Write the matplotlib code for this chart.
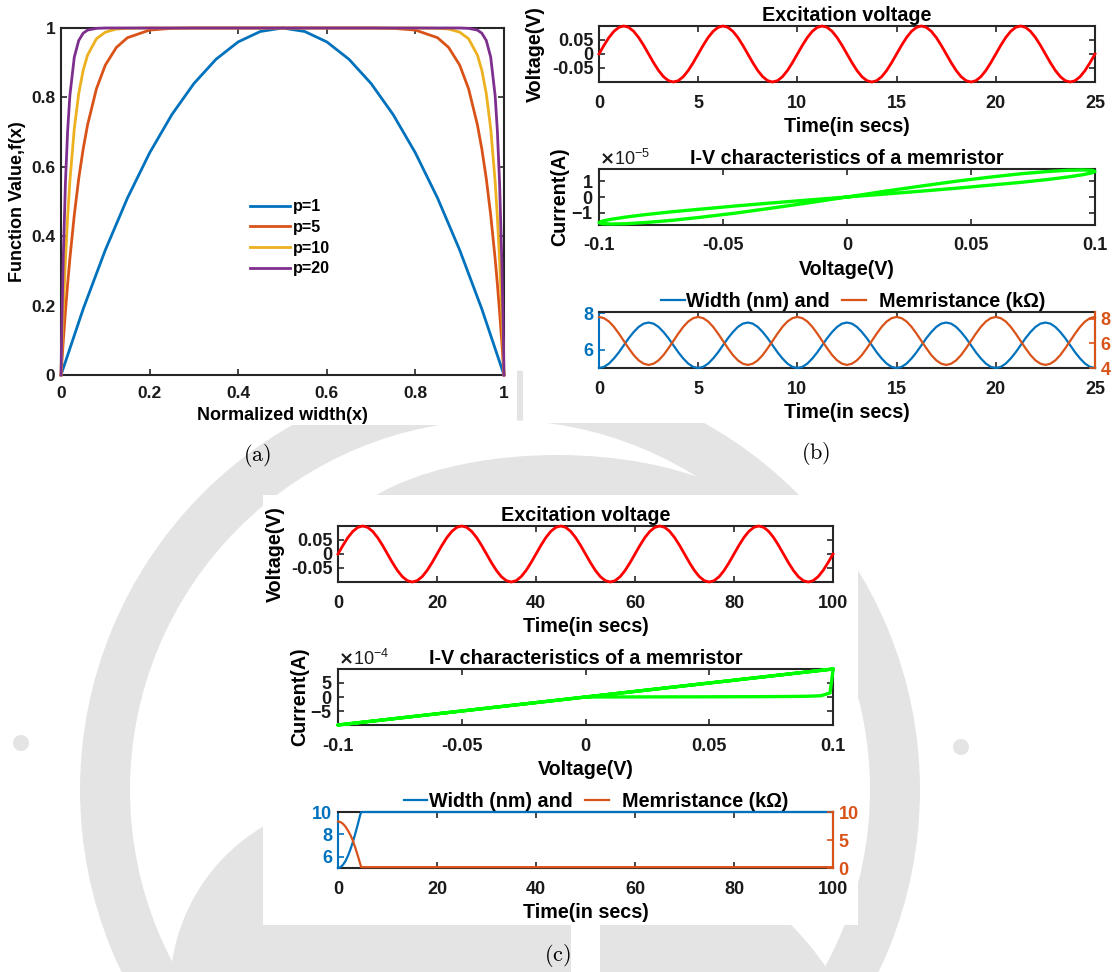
import numpy as np
import matplotlib
matplotlib.use("Agg")
import matplotlib.pyplot as plt
from matplotlib.patches import Wedge, Circle, Ellipse, Rectangle
from matplotlib.ticker import ScalarFormatter, FuncFormatter

# ---------------------------------------------------------------- data
# (a) window function f(x) for each p
p_labels = ["p=1", "p=5", "p=10", "p=20"]
x_p1 = [0, 0.05, 0.1, 0.15, 0.2, 0.25, 0.3, 0.35, 0.4, 0.45, 0.5,
        0.55, 0.6, 0.65, 0.7, 0.75, 0.8, 0.85, 0.9, 0.95, 1]
f_p1 = [0, 0.19, 0.36, 0.51, 0.64, 0.75, 0.84, 0.91, 0.96, 0.99, 1.0,
        0.99, 0.96, 0.91, 0.84, 0.75, 0.64, 0.51, 0.36, 0.19, 0]
x_p5 = [0, 0.005, 0.01, 0.015, 0.02, 0.03, 0.04, 0.05, 0.06, 0.08, 0.1, 0.125, 0.15, 0.2, 0.25, 0.3,
        0.7, 0.75, 0.8, 0.85, 0.875, 0.9, 0.92, 0.94, 0.95, 0.96, 0.97, 0.98, 0.985, 0.99, 0.995, 1]
f_p5 = [0, 0.096, 0.183, 0.263, 0.335, 0.461, 0.566, 0.651, 0.721, 0.825, 0.893, 0.944, 0.972, 0.994, 0.999, 1.0,
        1.0, 0.999, 0.994, 0.972, 0.944, 0.893, 0.825, 0.721, 0.651, 0.566, 0.461, 0.335, 0.263, 0.183, 0.096, 0]
x_p10 = [0, 0.0025, 0.005, 0.01, 0.015, 0.02, 0.03, 0.04, 0.05, 0.06, 0.08, 0.1, 0.125, 0.15, 0.2,
         0.8, 0.85, 0.875, 0.9, 0.92, 0.94, 0.95, 0.96, 0.97, 0.98, 0.985, 0.99, 0.995, 0.9975, 1]
f_p10 = [0, 0.095, 0.182, 0.332, 0.456, 0.558, 0.710, 0.811, 0.878, 0.922, 0.969, 0.988, 0.997, 0.999, 1.0,
         1.0, 0.999, 0.997, 0.988, 0.969, 0.922, 0.878, 0.811, 0.710, 0.558, 0.456, 0.332, 0.182, 0.095, 0]
x_p20 = [0, 0.0025, 0.005, 0.01, 0.015, 0.02, 0.03, 0.04, 0.05, 0.06, 0.08, 0.1,
         0.9, 0.92, 0.94, 0.95, 0.96, 0.97, 0.98, 0.985, 0.99, 0.995, 0.9975, 1]
f_p20 = [0, 0.182, 0.331, 0.554, 0.704, 0.805, 0.916, 0.964, 0.985, 0.994, 0.999, 1.0,
         1.0, 0.999, 0.994, 0.985, 0.964, 0.916, 0.805, 0.704, 0.554, 0.331, 0.182, 0]

# excitation voltage, one period (20 samples), repeated 5 times
volt_cycle = [0.0, 0.0309, 0.0588, 0.0809, 0.0951, 0.1, 0.0951, 0.0809, 0.0588, 0.0309,
              0.0, -0.0309, -0.0588, -0.0809, -0.0951, -0.1, -0.0951, -0.0809, -0.0588, -0.0309]
n_periods = 5

# (b) width (nm) and memristance (kOhm), one period
width_cycle_b = [5.00, 5.06, 5.24, 5.52, 5.86, 6.25, 6.64, 6.98, 7.26, 7.44,
                 7.50, 7.44, 7.26, 6.98, 6.64, 6.25, 5.86, 5.52, 5.24, 5.06]
mem_cycle_b = [8.15, 8.05, 7.78, 7.35, 6.80, 6.20, 5.60, 5.05, 4.62, 4.35,
               4.25, 4.35, 4.62, 5.05, 5.60, 6.20, 6.80, 7.35, 7.78, 8.05]

# (b) I-V loop (current in units of 1e-5 A)
v_iv_b = [0, 0.0156, 0.0309, 0.0454, 0.0588, 0.0707, 0.0809, 0.0891, 0.0951, 0.0988,
          0.1, 0.0988, 0.0951, 0.0891, 0.0809, 0.0707, 0.0588, 0.0454, 0.0309, 0.0156,
          0, -0.0156, -0.0309, -0.0454, -0.0588, -0.0707, -0.0809, -0.0891, -0.0951, -0.0988,
          -0.1, -0.0988, -0.0951, -0.0891, -0.0809, -0.0707, -0.0588, -0.0454, -0.0309, -0.0156, 0]
i_iv_b = [0, 0.19, 0.38, 0.57, 0.76, 0.93, 1.10, 1.26, 1.40, 1.52,
          1.61, 1.68, 1.70, 1.68, 1.60, 1.47, 1.27, 1.02, 0.71, 0.37,
          0, -0.37, -0.71, -1.02, -1.27, -1.47, -1.60, -1.68, -1.70, -1.68,
          -1.61, -1.52, -1.40, -1.26, -1.10, -0.93, -0.76, -0.57, -0.38, -0.19, 0]

# (c) I-V (current in units of 1e-4 A)
v_iv_c = [0, 0.0156, 0.0309, 0.0454, 0.0588, 0.0707, 0.0809, 0.0891, 0.0951, 0.0988, 0.0996, 0.1, -0.1, 0.1]
i_iv_c = [0, 0.02, 0.04, 0.06, 0.09, 0.12, 0.17, 0.25, 0.43, 1.4, 6.6, 9.7, -9.7, 9.7]

# (c) width / memristance
t_wm_c = [0, 0.5, 1, 1.5, 2, 2.5, 3, 3.5, 4, 4.5, 4.7, 100]
width_c = [5.0, 5.07, 5.28, 5.61, 6.08, 6.65, 7.32, 8.08, 8.9, 9.76, 10.0, 10.0]
mem_c = [8.3, 8.2, 7.9, 7.4, 6.7, 5.9, 4.9, 3.6, 2.2, 0.7, 0.15, 0.15]

t_b = np.linspace(0, 25, 101)
t_c = np.linspace(0, 100, 101)
volt_b = np.append(np.tile(volt_cycle, n_periods), 0.0)
volt_c = volt_b
width_b = np.append(np.tile(width_cycle_b, n_periods), width_cycle_b[0])
mem_b = np.append(np.tile(mem_cycle_b, n_periods), mem_cycle_b[0])

# ---------------------------------------------------------------- style
BLUE = "#0072BD"
ORANGE = "#D95319"
YELLOW = "#EDB120"
PURPLE = "#7E2F8E"
GRAY = "#e4e4e4"
AXCOL = "#262626"

plt.rcParams["font.family"] = ["Liberation Sans", "DejaVu Sans"]
plt.rcParams["font.weight"] = "bold"
plt.rcParams["axes.labelweight"] = "bold"
plt.rcParams["axes.titleweight"] = "bold"
plt.rcParams["axes.unicode_minus"] = False

W, H = 1119, 972
fig = plt.figure(figsize=(W / 100, H / 100), dpi=100)


def add_ax(x0, y0, x1, y1):
    return fig.add_axes([x0 / W, 1 - y1 / H, (x1 - x0) / W, (y1 - y0) / H])


def style(ax, size, xpad=9):
    for s in ax.spines.values():
        s.set_linewidth(1.5)
        s.set_color(AXCOL)
    ax.tick_params(direction="in", length=4, width=1.2, top=True, right=True,
                   labelsize=size, colors=AXCOL, labelcolor="#1a1a1a")
    ax.tick_params(axis="x", pad=xpad)
    ax.tick_params(axis="y", pad=4)
    ax.xaxis.set_major_formatter(FuncFormatter(lambda v, p: "%g" % round(v, 6)))


def labels(ax, xl, yl, xl_y, yl_x, size):
    ax.set_xlabel(xl, fontsize=size, va="center")
    ax.xaxis.set_label_coords(0.5, xl_y)
    if yl:
        ax.set_ylabel(yl, fontsize=size, va="center")
        ax.yaxis.set_label_coords(yl_x, 0.5)


# ---------------------------------------------------------------- background watermark
bg = fig.add_axes([0, 0, 1, 1], zorder=-10)
bg.set_xlim(0, W)
bg.set_ylim(H, 0)
bg.axis("off")
bg.add_patch(Wedge((500, 790), 420, 0, 360, width=50, color=GRAY, lw=0))
bg.add_patch(Ellipse((557, 560), 460, 210, color=GRAY, lw=0))
bg.add_patch(Circle((586, 1130), 290, color=GRAY, lw=0))
bg.add_patch(Circle((360, 990), 190, color=GRAY, lw=0))
bg.add_patch(Rectangle((571, 925), 29, 60, color="white", lw=0))
bg.add_patch(Circle((21, 743), 8, color=GRAY, lw=0))
bg.add_patch(Circle((961, 747), 8, color=GRAY, lw=0))
for (x0, y0, x1, y1) in [(0, 0, 517, 425), (523, 0, 1119, 423), (263, 495, 858, 925)]:
    bg.add_patch(Rectangle((x0, y0), x1 - x0, y1 - y0, color="white", lw=0))

# ---------------------------------------------------------------- (a)
ax = add_ax(61, 28, 504, 375)
for xs, ys, c, lab in zip([x_p1, x_p5, x_p10, x_p20], [f_p1, f_p5, f_p10, f_p20],
                          [BLUE, ORANGE, YELLOW, PURPLE], p_labels):
    ax.plot(xs, ys, color=c, lw=2, label=lab, clip_on=False, zorder=3)
ax.set_xlim(0, 1)
ax.set_ylim(0, 1)
ax.set_xticks([0, 0.2, 0.4, 0.6, 0.8, 1])
ax.set_yticks([0, 0.2, 0.4, 0.6, 0.8, 1])
style(ax, 12.5, xpad=8)
ax.yaxis.set_major_formatter(FuncFormatter(lambda v, p: "%g" % round(v, 6)))
labels(ax, "Normalized width(x)", "Function Value,f(x)", (375 - 415) / 347, (18 - 61) / 443, 13)
ax.legend(loc="center", bbox_to_anchor=(0.517, 0.395), frameon=False, fontsize=11.6,
          handlelength=2.5, handletextpad=0.2, labelspacing=0.35)

# ---------------------------------------------------------------- (b) and (c)
TS, LS = 13, 14.2


def volt_panel(box, t, v, xt, yl_x):
    ax = add_ax(*box)
    ax.plot(t, v, color="red", lw=2, clip_on=False, zorder=3)
    ax.set_xlim(t[0], t[-1])
    ax.set_ylim(-0.1, 0.1)
    ax.set_xticks(xt)
    ax.set_yticks([-0.05, 0, 0.05])
    style(ax, TS)
    ax.yaxis.set_major_formatter(FuncFormatter(lambda v, p: "%g" % round(v, 6)))
    labels(ax, "Time(in secs)", "Voltage(V)", -0.80, yl_x, LS)
    ax.set_title("Excitation voltage", fontsize=LS, y=1.196, va="center", pad=0)


def iv_panel(box, v, i, scale, lim, yt, yl_x):
    ax = add_ax(*box)
    ax.plot(v, np.array(i) * scale, color="#00ff00", lw=2.4, clip_on=False, zorder=3)
    ax.set_xlim(-0.1, 0.1)
    ax.set_ylim(-lim * scale, lim * scale)
    ax.set_xticks([-0.1, -0.05, 0, 0.05, 0.1])
    ax.set_yticks(np.array(yt) * scale)
    style(ax, TS)
    fmt = ScalarFormatter(useMathText=True)
    fmt.set_powerlimits((0, 0))
    ax.yaxis.set_major_formatter(fmt)
    ax.yaxis.get_offset_text().set_fontsize(13)
    ax.yaxis.get_offset_text().set_fontweight("normal")
    labels(ax, "Voltage(V)", "Current(A)", -0.80, yl_x, LS)
    ax.set_title("I-V characteristics of a memristor", fontsize=LS, y=1.196, va="center", pad=0)


def wm_panel(box, t, w, m, tlim, xt, wlim, wt, mlim, mt, leg_x):
    ax = add_ax(*box)
    style(ax, TS)
    ax.tick_params(right=False)
    axr = ax.twinx()
    l1, = ax.plot(t, w, color=BLUE, lw=1.6, clip_on=False, zorder=3)
    l2, = axr.plot(t, m, color=ORANGE, lw=1.6, clip_on=False, zorder=3)
    ax.set_xlim(*tlim)
    ax.set_xticks(xt)
    ax.set_ylim(*wlim)
    ax.set_yticks(wt)
    axr.set_ylim(*mlim)
    axr.set_yticks(mt)
    ax.spines["left"].set_color(BLUE)
    ax.tick_params(axis="y", colors=BLUE, labelcolor=BLUE)
    for s in ["left", "top", "bottom"]:
        axr.spines[s].set_visible(False)
    axr.spines["right"].set_color(ORANGE)
    axr.spines["right"].set_linewidth(1.5)
    axr.tick_params(axis="y", direction="in", length=4, width=1.2, colors=ORANGE,
                    labelcolor=ORANGE, labelsize=TS, pad=4)
    ax.yaxis.set_major_formatter(FuncFormatter(lambda v, p: "%g" % v))
    axr.yaxis.set_major_formatter(FuncFormatter(lambda v, p: "%g" % v))
    labels(ax, "Time(in secs)", None, -0.80, 0, LS)
    ax.legend([l1, l2], ["Width (nm) and", "  Memristance (k\u03a9)"], ncol=2, loc="center",
              bbox_to_anchor=(leg_x, 1.196), frameon=False, fontsize=LS,
              handlelength=1.2, handletextpad=0.1, columnspacing=0.6, borderpad=0)


volt_panel((599, 26, 1095, 82), t_b, volt_b, [0, 5, 10, 15, 20, 25], (535 - 599) / 496)
iv_panel((599, 169, 1095, 225), v_iv_b, i_iv_b, 1e-5, 1.76, [-1, 0, 1], (560 - 599) / 496)
wm_panel((599, 312, 1095, 368), t_b, width_b, mem_b, (0, 25), [0, 5, 10, 15, 20, 25],
         (5, 8.08), [6, 8], (4, 8.55), [4, 6, 8], 0.512)

volt_panel((338, 526, 833, 582), t_c, volt_c, [0, 20, 40, 60, 80, 100], (275 - 338) / 495)
iv_panel((338, 669, 833, 725), v_iv_c, i_iv_c, 1e-4, 9.7, [-5, 0, 5], (300 - 338) / 495)
wm_panel((338, 812, 833, 868), t_wm_c, width_c, mem_c, (0, 100), [0, 20, 40, 60, 80, 100],
         (5, 10), [6, 8, 10], (0, 10), [0, 5, 10], 0.521)

# ---------------------------------------------------------------- panel letters
for txt, x, y in [("(a)", 257, 455), ("(b)", 816, 453), ("(c)", 557, 955)]:
    fig.text(x / W, 1 - y / H, r"$\mathrm{%s}$" % txt, math_fontfamily="cm",
             fontsize=16, ha="center", va="center")

fig.savefig("out.png", dpi=100)
